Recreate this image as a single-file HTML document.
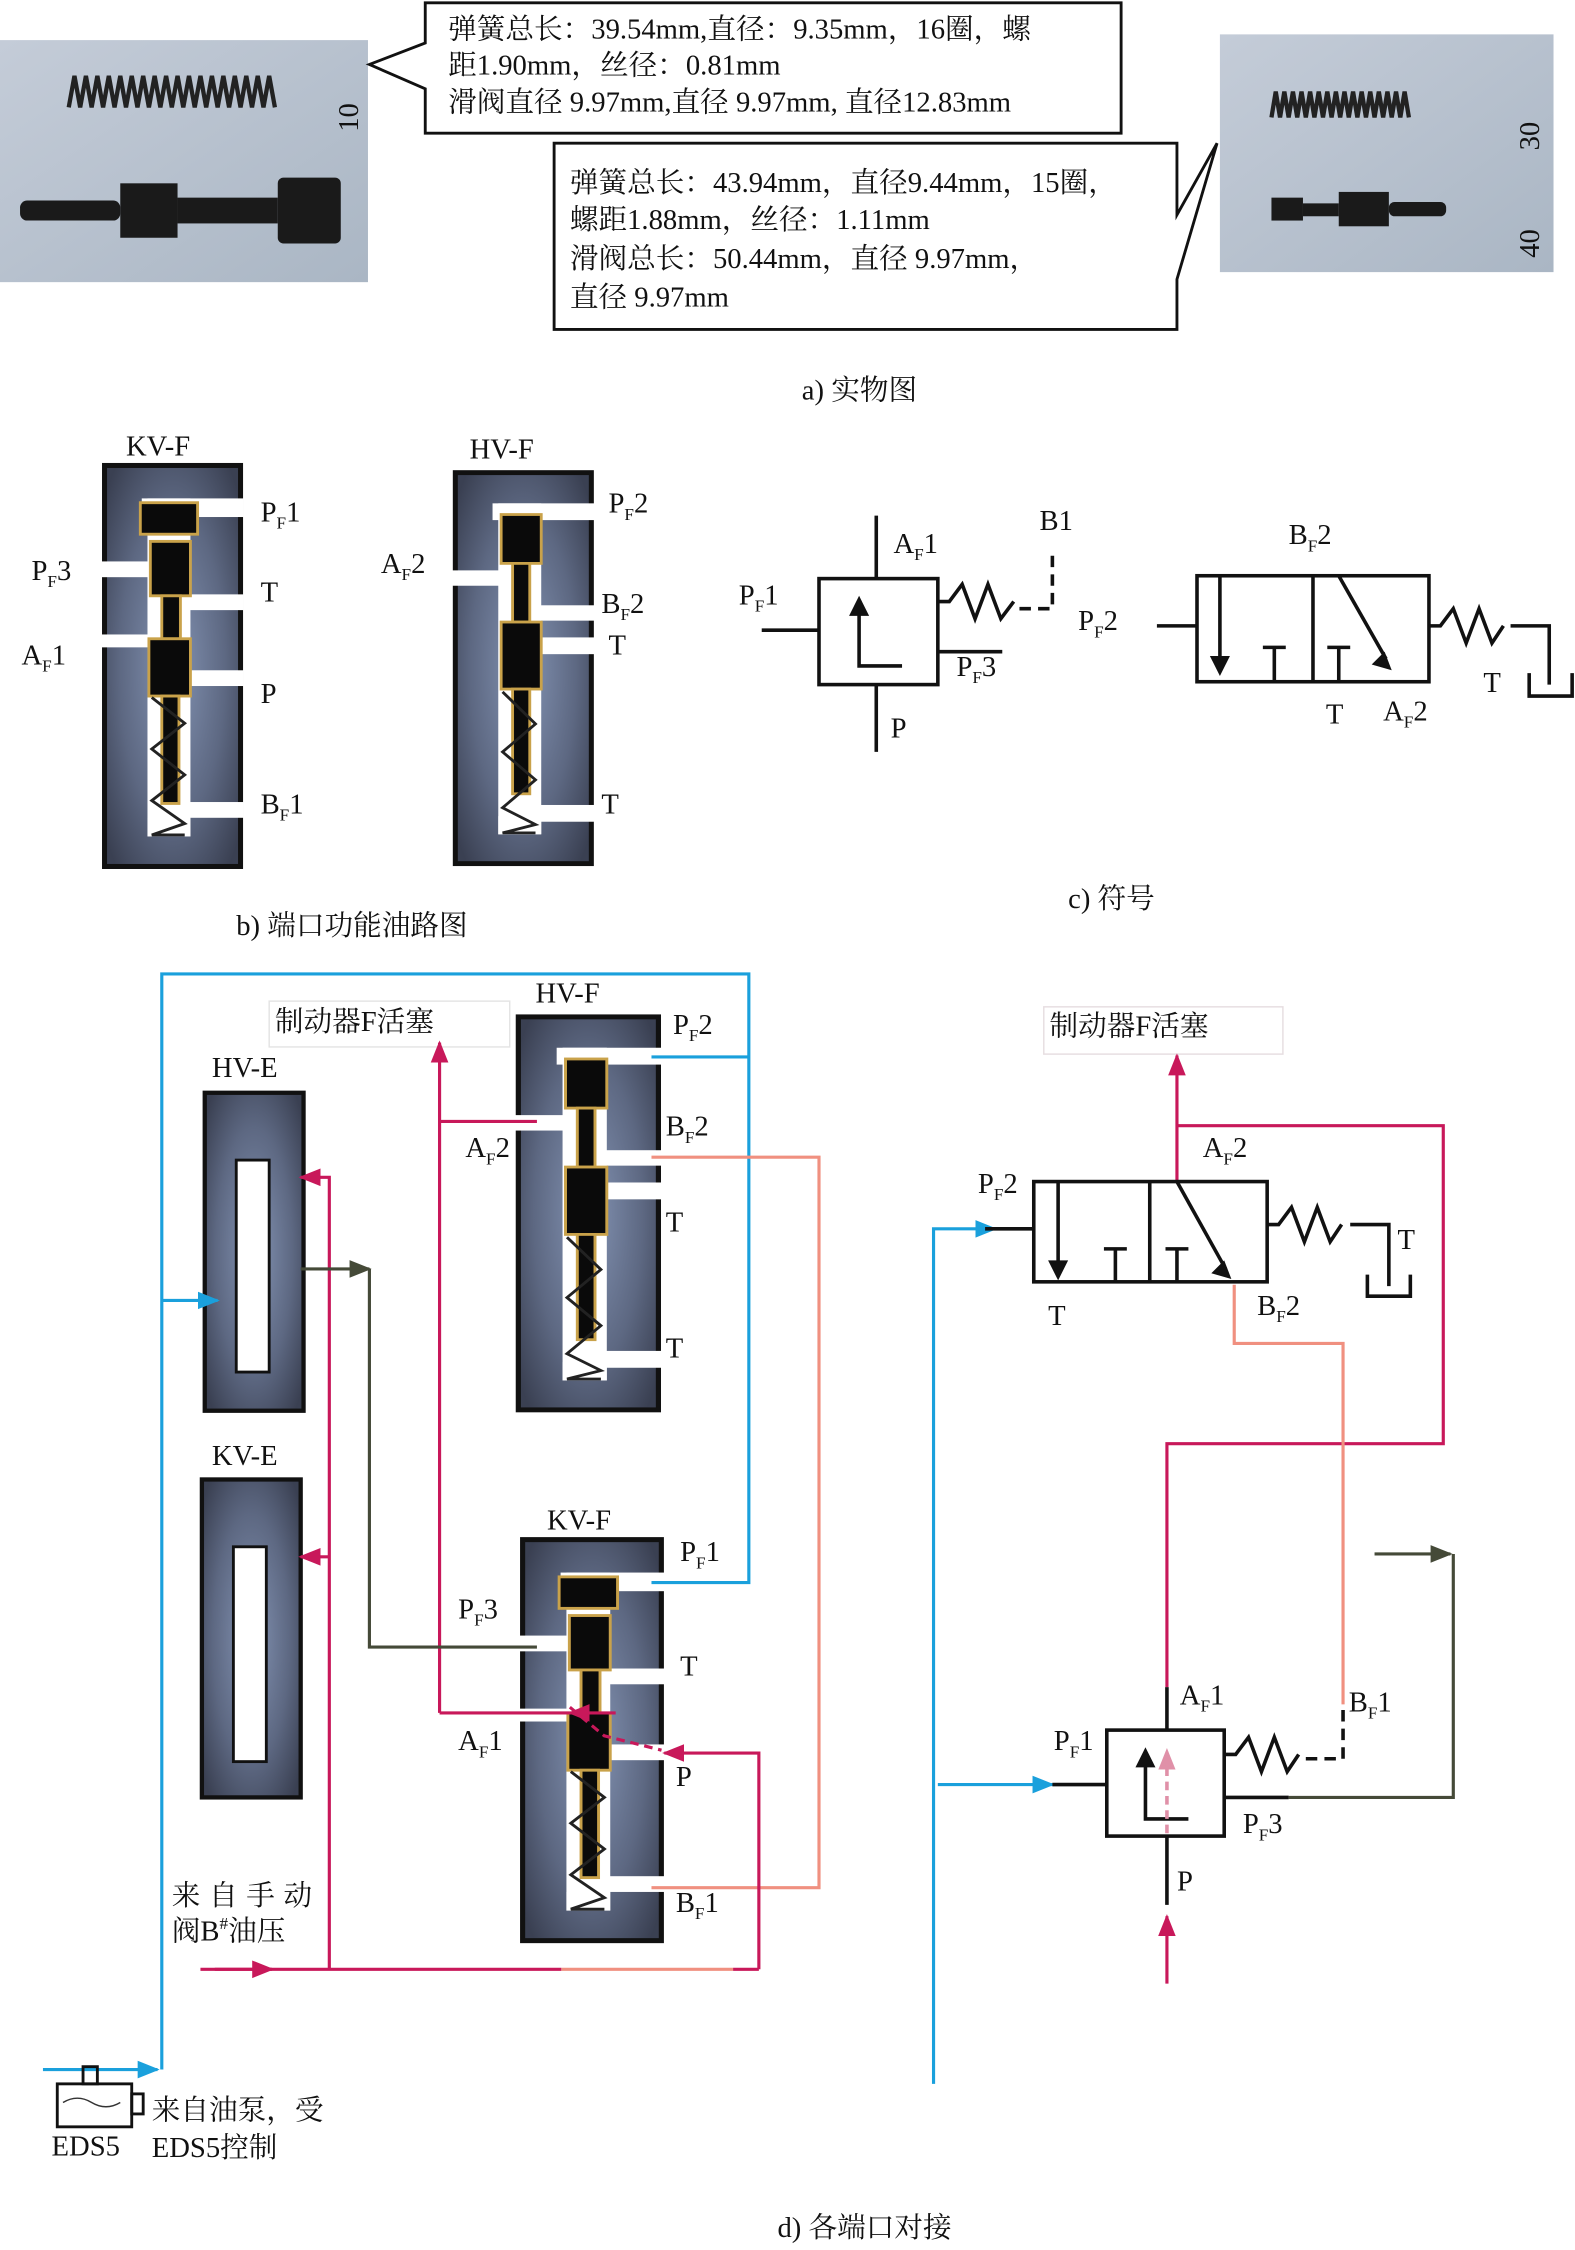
<!DOCTYPE html>
<html><head><meta charset="utf-8"><style>
html,body{margin:0;padding:0;background:#fff}
svg{display:block}
text{font-family:"Liberation Serif","Noto Serif CJK SC","Noto Sans CJK SC",serif;font-size:20px;fill:#111}
.cn{font-family:"Liberation Serif","Noto Serif CJK SC",serif}
</style></head><body>
<svg width="1575" height="2250" viewBox="0 0 1100 1571" preserveAspectRatio="none" xmlns="http://www.w3.org/2000/svg">
<defs>
<radialGradient id="g" cx="50%" cy="50%" r="65%"><stop offset="0" stop-color="#8494b4"/><stop offset="0.6" stop-color="#5d6882"/><stop offset="1" stop-color="#3a4052"/></radialGradient>
<linearGradient id="ph" x1="0" y1="0" x2="1" y2="1"><stop offset="0" stop-color="#c4ccd8"/><stop offset="1" stop-color="#aab6c4"/></linearGradient>
<g id="kv">
<rect x="0" y="0" width="95" height="280" fill="url(#g)" stroke="#111" stroke-width="3.5"/>
<rect x="30" y="23" width="30" height="236" fill="#fff"/>
<rect x="26" y="23" width="71" height="13" fill="#fff"/>
<rect x="-2" y="67" width="40" height="11" fill="#fff"/>
<rect x="55" y="90" width="42" height="11" fill="#fff"/>
<rect x="-2" y="118" width="40" height="9" fill="#fff"/>
<rect x="55" y="143" width="42" height="11" fill="#fff"/>
<rect x="55" y="235" width="42" height="11" fill="#fff"/>
<rect x="30" y="246" width="30" height="13" fill="#fff"/>
<g fill="#0a0a0a" stroke="#c9a24a" stroke-width="2">
<rect x="25" y="26" width="40" height="22"/>
<rect x="32" y="53" width="28" height="38"/>
<rect x="40" y="91" width="13" height="30"/>
<rect x="31" y="121" width="29" height="40"/>
<rect x="40" y="161" width="12" height="75"/>
</g>
<polyline points="33,162 56,180 33,198 56,216 33,234 56,250 33,258 56,258" fill="none" stroke="#222" stroke-width="2"/>
</g>
<g id="hv">
<rect x="0" y="0" width="95" height="280" fill="url(#g)" stroke="#111" stroke-width="3.5"/>
<rect x="30" y="22" width="30" height="237" fill="#fff"/>
<rect x="26" y="22" width="71" height="12" fill="#fff"/>
<rect x="-2" y="70" width="40" height="11" fill="#fff"/>
<rect x="55" y="95" width="42" height="11" fill="#fff"/>
<rect x="55" y="118" width="42" height="12" fill="#fff"/>
<rect x="55" y="238" width="42" height="12" fill="#fff"/>
<rect x="30" y="246" width="30" height="13" fill="#fff"/>
<g fill="#0a0a0a" stroke="#c9a24a" stroke-width="2">
<rect x="32" y="30" width="28" height="35"/>
<rect x="40" y="65" width="12" height="42"/>
<rect x="32" y="107" width="28" height="48"/>
<rect x="40" y="155" width="12" height="75"/>
</g>
<polyline points="33,157 56,180 33,200 56,220 33,240 56,252 33,258 56,258" fill="none" stroke="#222" stroke-width="2"/>
</g>
<marker id="ab" viewBox="0 0 10 10" refX="9" refY="5" markerWidth="7" markerHeight="7" orient="auto"><path d="M0,1L10,5L0,9z" fill="#1aa0dc"/></marker>
<marker id="am" viewBox="0 0 10 10" refX="9" refY="5" markerWidth="7" markerHeight="7" orient="auto"><path d="M0,1L10,5L0,9z" fill="#c8185a"/></marker>
<marker id="ao" viewBox="0 0 10 10" refX="9" refY="5" markerWidth="7" markerHeight="7" orient="auto"><path d="M0,1L10,5L0,9z" fill="#454a38"/></marker>
<marker id="ap" viewBox="0 0 10 10" refX="9" refY="5" markerWidth="6" markerHeight="6" orient="auto"><path d="M0,1L10,5L0,9z" fill="#e090a8"/></marker>
</defs>

<!-- photos -->
<rect x="0" y="28" width="257" height="169" fill="url(#ph)"/>
<path d="M48,75 l4,-22 l4,22 l4,-22 l4,22 l4,-22 l4,22 l4,-22 l4,22 l4,-22 l4,22 l4,-22 l4,22 l4,-22 l4,22 l4,-22 l4,22 l4,-22 l4,22 l4,-22 l4,22 l4,-22 l4,22 l4,-22 l4,22 l4,-22 l4,22 l4,-22 l4,22 l4,-22 l4,22 l4,-22 l4,22 l4,-22 l4,22 l4,-22 l4,22" fill="none" stroke="#222" stroke-width="3"/>
<rect x="14" y="140" width="70" height="14" rx="5" fill="#1a1a1a"/>
<rect x="84" y="128" width="40" height="38" fill="#1a1a1a"/>
<rect x="124" y="138" width="70" height="18" fill="#1a1a1a"/>
<rect x="194" y="124" width="44" height="46" rx="4" fill="#1a1a1a"/>
<text x="250" y="92" font-size="13" transform="rotate(-90 250 92)">10</text>
<rect x="852" y="24" width="233" height="166" fill="url(#ph)"/>
<path d="M888,82 l3,-18 l3,18 l3,-18 l3,18 l3,-18 l3,18 l3,-18 l3,18 l3,-18 l3,18 l3,-18 l3,18 l3,-18 l3,18 l3,-18 l3,18 l3,-18 l3,18 l3,-18 l3,18 l3,-18 l3,18 l3,-18 l3,18 l3,-18 l3,18 l3,-18 l3,18 l3,-18 l3,18 l3,-18 l3,18" fill="none" stroke="#222" stroke-width="3"/>
<rect x="888" y="138" width="22" height="16" fill="#1a1a1a"/>
<rect x="910" y="142" width="25" height="9" fill="#1a1a1a"/>
<rect x="935" y="134" width="35" height="24" fill="#1a1a1a"/>
<rect x="970" y="141" width="40" height="10" rx="4" fill="#1a1a1a"/>
<text x="1075" y="105" font-size="12" transform="rotate(-90 1075 105)">30</text>
<text x="1075" y="180" font-size="12" transform="rotate(-90 1075 180)">40</text>

<!-- callouts -->
<path d="M297,2 H783 V93 H297 V62 L258,45 L297,30 Z" fill="#fff" stroke="#111" stroke-width="2"/>
<text class="cn" x="313" y="27">弹簧总长：39.54mm,直径：9.35mm，16圈，螺</text>
<text class="cn" x="313" y="52">距1.90mm，丝径：0.81mm</text>
<text class="cn" x="313" y="78">滑阀直径 9.97mm,直径 9.97mm, 直径12.83mm</text>
<path d="M387,100 H822 V150 L850,100 L822,195 V230 H387 Z" fill="#fff" stroke="#111" stroke-width="2"/>
<text class="cn" x="398" y="134">弹簧总长：43.94mm，直径9.44mm，15圈，</text>
<text class="cn" x="398" y="160">螺距1.88mm，丝径：1.11mm</text>
<text class="cn" x="398" y="187">滑阀总长：50.44mm，直径 9.97mm，</text>
<text class="cn" x="398" y="214">直径 9.97mm</text>
<text class="cn" x="560" y="279">a) 实物图</text>

<!-- b) -->
<text x="88" y="318">KV-F</text>
<use href="#kv" transform="translate(73,325)"/>
<text x="182" y="364">P<tspan font-size="12" dy="5">F</tspan><tspan dy="-5">1</tspan></text>
<text x="182" y="420">T</text>
<text x="182" y="491">P</text>
<text x="182" y="568">B<tspan font-size="12" dy="5">F</tspan><tspan dy="-5">1</tspan></text>
<text x="22" y="405">P<tspan font-size="12" dy="5">F</tspan><tspan dy="-5">3</tspan></text>
<text x="15" y="464">A<tspan font-size="12" dy="5">F</tspan><tspan dy="-5">1</tspan></text>
<text x="328" y="320">HV-F</text>
<use href="#hv" transform="translate(318,330) scale(1,0.975)"/>
<text x="425" y="358">P<tspan font-size="12" dy="5">F</tspan><tspan dy="-5">2</tspan></text>
<text x="266" y="400">A<tspan font-size="12" dy="5">F</tspan><tspan dy="-5">2</tspan></text>
<text x="420" y="428">B<tspan font-size="12" dy="5">F</tspan><tspan dy="-5">2</tspan></text>
<text x="425" y="457">T</text>
<text x="420" y="568">T</text>
<text class="cn" x="165" y="653">b) 端口功能油路图</text>

<!-- c) -->
<g stroke="#111" stroke-width="2.5" fill="none">
<rect x="572" y="404" width="83" height="74"/>
<line x1="612" y1="360" x2="612" y2="404"/><line x1="612" y1="478" x2="612" y2="525"/>
<line x1="532" y1="440" x2="572" y2="440"/>
<polyline points="630,465 600,465 600,422"/>
<polyline points="655,420 663,420 672,408 681,432 690,408 699,432 708,420"/>
<polyline points="712,425 735,425 735,388" stroke-dasharray="8,5"/>
<line x1="655" y1="455" x2="700" y2="455"/>
<rect x="836" y="402" width="162" height="74"/><line x1="917" y1="402" x2="917" y2="476"/>
<line x1="808" y1="437" x2="836" y2="437"/>
<line x1="852" y1="402" x2="852" y2="462"/>
<line x1="890" y1="476" x2="890" y2="452"/><line x1="882" y1="452" x2="898" y2="452"/>
<line x1="935" y1="476" x2="935" y2="452"/><line x1="927" y1="452" x2="943" y2="452"/>
<line x1="935" y1="402" x2="968" y2="460"/>
<polyline points="998,437 1006,437 1015,425 1024,449 1033,425 1042,449 1050,437"/>
<polyline points="1055,437 1082,437 1082,478"/>
<polyline points="1068,470 1068,486 1098,486 1098,470"/>
</g>
<path d="M600,416 l-7,14 h14z" fill="#111"/>
<path d="M852,472 l-7,-14 h14z" fill="#111"/>
<path d="M972,468 l-14,-4 l9,-9z" fill="#111"/>
<text x="624" y="386">A<tspan font-size="12" dy="5">F</tspan><tspan dy="-5">1</tspan></text>
<text x="726" y="370">B1</text>
<text x="516" y="422">P<tspan font-size="12" dy="5">F</tspan><tspan dy="-5">1</tspan></text>
<text x="668" y="472">P<tspan font-size="12" dy="5">F</tspan><tspan dy="-5">3</tspan></text>
<text x="622" y="515">P</text>
<text x="753" y="440">P<tspan font-size="12" dy="5">F</tspan><tspan dy="-5">2</tspan></text>
<text x="900" y="380">B<tspan font-size="12" dy="5">F</tspan><tspan dy="-5">2</tspan></text>
<text x="926" y="505">T</text>
<text x="966" y="503">A<tspan font-size="12" dy="5">F</tspan><tspan dy="-5">2</tspan></text>
<text x="1036" y="483">T</text>
<text class="cn" x="746" y="634">c) 符号</text>

<!-- d) left -->
<text x="148" y="752">HV-E</text>
<rect x="143" y="763" width="69" height="222" fill="url(#g)" stroke="#111" stroke-width="3"/>
<rect x="165" y="810" width="23" height="148" fill="#fff" stroke="#111" stroke-width="2"/>
<text x="148" y="1023">KV-E</text>
<rect x="141" y="1033" width="69" height="222" fill="url(#g)" stroke="#111" stroke-width="3"/>
<rect x="163" y="1080" width="23" height="150" fill="#fff" stroke="#111" stroke-width="2"/>
<rect x="188" y="699" width="168" height="32" fill="#fff" stroke="#e4e4e4"/>
<text class="cn" x="192" y="720">制动器F活塞</text>
<text x="374" y="700">HV-F</text>
<use href="#hv" transform="translate(362,710) scale(1.03,0.98)"/>
<text x="470" y="722">P<tspan font-size="12" dy="5">F</tspan><tspan dy="-5">2</tspan></text>
<text x="465" y="793">B<tspan font-size="12" dy="5">F</tspan><tspan dy="-5">2</tspan></text>
<text x="325" y="808">A<tspan font-size="12" dy="5">F</tspan><tspan dy="-5">2</tspan></text>
<text x="465" y="860">T</text>
<text x="465" y="948">T</text>
<text x="382" y="1068">KV-F</text>
<use href="#kv" transform="translate(365,1075) scale(1.02,1)"/>
<text x="475" y="1090">P<tspan font-size="12" dy="5">F</tspan><tspan dy="-5">1</tspan></text>
<text x="320" y="1130">P<tspan font-size="12" dy="5">F</tspan><tspan dy="-5">3</tspan></text>
<text x="475" y="1170">T</text>
<text x="320" y="1222">A<tspan font-size="12" dy="5">F</tspan><tspan dy="-5">1</tspan></text>
<text x="472" y="1247">P</text>
<text x="472" y="1335">B<tspan font-size="12" dy="5">F</tspan><tspan dy="-5">1</tspan></text>

<g fill="none" stroke-width="2.2">
<polyline stroke="#1aa0dc" points="113,1445 113,680 523,680 523,1105 455,1105"/>
<line stroke="#1aa0dc" x1="455" y1="738" x2="523" y2="738"/>
<line stroke="#1aa0dc" x1="113" y1="908" x2="152" y2="908" marker-end="url(#ab)"/>
<line stroke="#1aa0dc" x1="30" y1="1445" x2="110" y2="1445" marker-end="url(#ab)"/>
<polyline stroke="#f09080" points="455,808 572,808 572,1318 455,1318"/>
<line stroke="#f09080" x1="392" y1="1375" x2="512" y2="1375"/>
<polyline stroke="#c8185a" points="375,783 307,783"/>
<polyline stroke="#c8185a" points="307,1196 307,728" marker-end="url(#am)"/>
<polyline stroke="#c8185a" points="307,1196 398,1196"/>
<line stroke="#c8185a" x1="430" y1="1196" x2="398" y2="1196" marker-end="url(#am)"/>
<polyline stroke="#c8185a" stroke-dasharray="6,4" points="398,1192 422,1212 462,1222"/>
<polyline stroke="#c8185a" points="530,1375 530,1224 464,1224" marker-end="url(#am)"/>
<polyline stroke="#c8185a" points="140,1375 392,1375"/>
<line stroke="#c8185a" x1="512" y1="1375" x2="530" y2="1375"/>
<line stroke="#c8185a" x1="150" y1="1375" x2="190" y2="1375" marker-end="url(#am)"/>
<polyline stroke="#c8185a" points="230,1375 230,822 210,822" marker-end="url(#am)"/>
<line stroke="#c8185a" x1="230" y1="1087" x2="210" y2="1087" marker-end="url(#am)"/>
<polyline stroke="#454a38" points="375,1150 258,1150 258,886"/>
<line stroke="#454a38" x1="210" y1="886" x2="258" y2="886" marker-end="url(#ao)"/>
</g>
<text class="cn" x="120" y="1330" letter-spacing="6">来自手动</text>
<text class="cn" x="120" y="1355">阀B<tspan font-size="12" dy="-8">#</tspan><tspan dy="8">油压</tspan></text>
<rect x="40" y="1455" width="52" height="30" fill="#fff" stroke="#111" stroke-width="2"/>
<rect x="58" y="1443" width="10" height="12" fill="none" stroke="#111" stroke-width="2"/>
<rect x="92" y="1462" width="8" height="14" fill="none" stroke="#111" stroke-width="2"/>
<path d="M44,1468 q10,-6 20,0 t20,0" fill="none" stroke="#333"/>
<text x="36" y="1505">EDS5</text>
<text class="cn" x="106" y="1480">来自油泵，受</text>
<text class="cn" x="106" y="1506">EDS5控制</text>

<!-- d) right -->
<rect x="729" y="703" width="167" height="33" fill="#fff" stroke="#e6dde0"/>
<text class="cn" x="733" y="723">制动器F活塞</text>
<g fill="none" stroke-width="2.2">
<polyline stroke="#1aa0dc" points="652,1455 652,858 695,858" marker-end="url(#ab)"/>
<line stroke="#1aa0dc" x1="655" y1="1246" x2="735" y2="1246" marker-end="url(#ab)"/>
<line stroke="#c8185a" x1="822" y1="825" x2="822" y2="737" marker-end="url(#am)"/>
<polyline stroke="#c8185a" points="822,786 1008,786 1008,1008 815,1008 815,1178"/>
<polyline stroke="#f09080" points="862,897 862,938 938,938 938,1190"/>
<line stroke="#c8185a" x1="815" y1="1385" x2="815" y2="1338" marker-end="url(#am)"/>
<polyline stroke="#454a38" points="900,1255 1015,1255 1015,1085"/>
<line stroke="#454a38" x1="960" y1="1085" x2="1013" y2="1085" marker-end="url(#ao)"/>
</g>
<g stroke="#111" stroke-width="2.5" fill="none">
<rect x="722" y="825" width="163" height="70"/><line x1="803" y1="825" x2="803" y2="895"/>
<line x1="688" y1="858" x2="722" y2="858"/>
<line x1="739" y1="825" x2="739" y2="884"/>
<line x1="779" y1="895" x2="779" y2="872"/><line x1="771" y1="872" x2="787" y2="872"/>
<line x1="822" y1="895" x2="822" y2="872"/><line x1="814" y1="872" x2="830" y2="872"/>
<line x1="822" y1="825" x2="856" y2="886"/>
<polyline points="885,855 893,855 902,843 911,867 920,843 929,867 937,855"/>
<polyline points="943,855 970,855 970,898"/>
<polyline points="955,890 955,905 985,905 985,890"/>
<line x1="815" y1="1178" x2="815" y2="1208"/>
<rect x="773" y="1208" width="82" height="74"/>
<polyline points="830,1270 800,1270 800,1228"/>
<line x1="735" y1="1246" x2="773" y2="1246"/>
<polyline points="855,1225 863,1225 872,1213 881,1237 890,1213 899,1237 907,1225"/>
<polyline points="912,1228 938,1228 938,1190" stroke-dasharray="8,5"/>
<line x1="855" y1="1255" x2="900" y2="1255"/>
<line x1="815" y1="1282" x2="815" y2="1330"/>
</g>
<line x1="815" y1="1280" x2="815" y2="1222" stroke="#e090a8" stroke-width="2.5" stroke-dasharray="6,4" marker-end="url(#ap)"/>
<path d="M739,894 l-7,-14 h14z" fill="#111"/>
<path d="M860,893 l-14,-4 l9,-9z" fill="#111"/>
<path d="M800,1220 l-7,14 h14z" fill="#111"/>
<text x="683" y="833">P<tspan font-size="12" dy="5">F</tspan><tspan dy="-5">2</tspan></text>
<text x="840" y="808">A<tspan font-size="12" dy="5">F</tspan><tspan dy="-5">2</tspan></text>
<text x="732" y="925">T</text>
<text x="878" y="918">B<tspan font-size="12" dy="5">F</tspan><tspan dy="-5">2</tspan></text>
<text x="976" y="872">T</text>
<text x="824" y="1190">A<tspan font-size="12" dy="5">F</tspan><tspan dy="-5">1</tspan></text>
<text x="942" y="1195">B<tspan font-size="12" dy="5">F</tspan><tspan dy="-5">1</tspan></text>
<text x="736" y="1222">P<tspan font-size="12" dy="5">F</tspan><tspan dy="-5">1</tspan></text>
<text x="868" y="1280">P<tspan font-size="12" dy="5">F</tspan><tspan dy="-5">3</tspan></text>
<text x="822" y="1320">P</text>
<text class="cn" x="543" y="1562">d) 各端口对接</text>
</svg>
</body></html>
